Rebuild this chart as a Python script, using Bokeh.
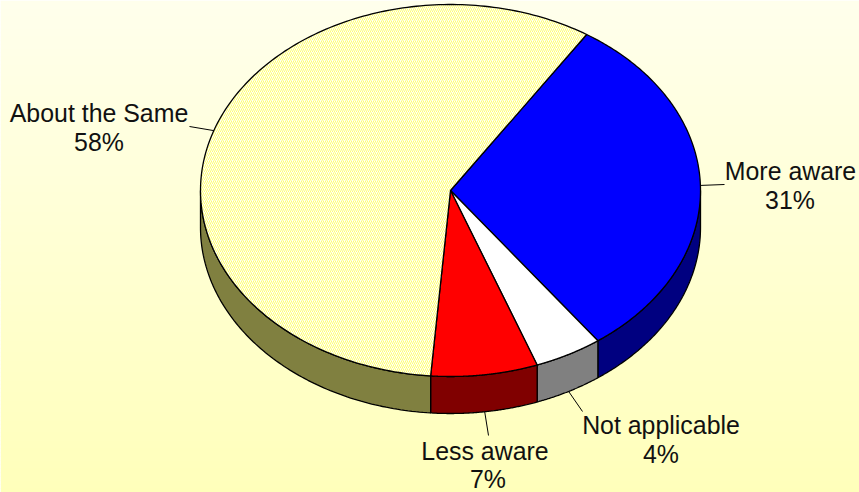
import numpy as np
from bokeh.plotting import figure
from bokeh.models import Range1d
from bokeh.core.properties import value
from bokeh.embed import file_html
from bokeh.resources import INLINE

categories = ["More aware", "Not applicable", "Less aware", "About the Same"]
shares = [30.8, 4.4, 6.9, 57.9]
top_colors = ["#0000FF", "#FFFFFF", "#FF0000", "#FFFFFA"]
side_colors = ["#000080", "#808080", "#800000", "#808040"]
hatches = [None, None, None, "right_diagonal_line"]
label_x = [790, 660.5, 484.5, 98.5]
label_y = [170, 424, 450, 112]
percent_x = [789.5, 660.5, 487.5, 98.5]
percent_y = [199, 453, 478, 141]
leader_x = [724, 582, 488, 189]
leader_y = [184, 411, 435, 126]

W, H = 859, 492
CX, CY, RX, RY, DEPTH = 450, 190, 250, 186, 37
START = 33.0
FONT = "24.9px"


def rim(deg):
    t = np.radians(deg)
    return CX + RX * np.sin(t), CY - RY * np.cos(t)


p = figure(width=W, height=H, output_backend="svg", toolbar_location=None,
           x_range=Range1d(0, W), y_range=Range1d(H, 0), min_border=0,
           outline_line_color=None)
p.axis.visible = False
p.grid.visible = False
p.styles = {"position": "absolute", "left": "0", "top": "0"}

# background gradient
edges = np.arange(0, H + 1, 4)
frac = edges[:-1] / H
ramp = [f"#FFFF{int(round(236 - 50 * f)):02X}" for f in frac]
p.quad(left=0, right=W, top=edges[:-1], bottom=edges[1:] + 0.5,
       fill_color=ramp, line_color=None)

ang = START
for share, tc, sc, hatch in zip(shares, top_colors, side_colors, hatches):
    a0, a1 = ang, ang + share * 3.6
    ang = a1
    # side wall: only the front half of the disc shows
    s0, s1 = max(a0, 90), min(a1, 270)
    if s1 > s0:
        t = np.linspace(s0, s1, 100)
        x, y = rim(t)
        p.patch(np.r_[x, x[::-1]], np.r_[y, y[::-1] + DEPTH],
                fill_color=sc, line_color="black", line_width=1.3)
    t = np.linspace(a0, a1, 200)
    x, y = rim(t)
    kw = {}
    if hatch:
        kw = dict(hatch_pattern=hatch, hatch_color="#FFFF70", hatch_scale=4, hatch_weight=1)
    p.patch(np.r_[CX, x], np.r_[CY, y], fill_color=tc, line_color="black",
            line_width=1.3, line_join="round", **kw)

# leaders and labels
ang = START
for name, share, lx, ly, qx, py, ex, ey in zip(categories, shares, label_x, label_y,
                                               percent_x, percent_y, leader_x, leader_y):
    mid = ang + share * 1.8
    ang += share * 3.6
    x0, y0 = rim(mid)
    if np.cos(np.radians(mid)) < 0:
        y0 += DEPTH
    p.line([x0, ex], [y0, ey], line_color="black", line_width=1)
    p.text([lx], [ly], text=[name], text_align="center", text_baseline="middle",
           text_font=value("Liberation Sans"), text_font_size=FONT, text_color="#111111")
    p.text([qx], [py], text=[f"{round(share)}%"], text_align="center", text_baseline="middle",
           text_font=value("Liberation Sans"), text_font_size=FONT, text_color="#111111")

open("out.html", "w").write(file_html(p, INLINE))
